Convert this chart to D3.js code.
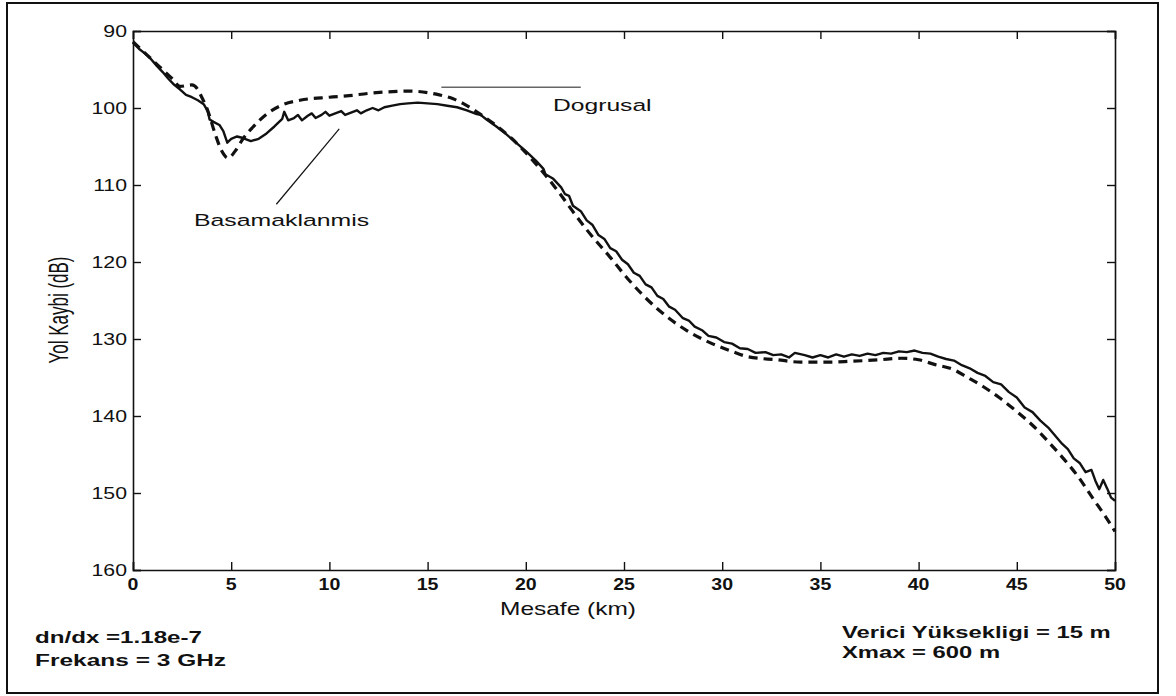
<!DOCTYPE html>
<html><head><meta charset="utf-8">
<script src="https://cdn.jsdelivr.net/npm/d3@7"></script>
<style>html,body{margin:0;padding:0;background:#fff;} svg{display:block;}</style>
</head><body>
<svg id="c" width="1176" height="696"></svg>
<script>
// ---------- data ----------
const xTicks = [0,5,10,15,20,25,30,35,40,45,50];
const yTicks = [90,100,110,120,130,140,150,160];

// Dogrusal (dashed) : distance km, path loss dB
const dogX = [0,0.5,1,1.5,2,2.4,2.7,3.0,3.3,3.5,3.8,4.2,4.5,4.85,5.2,5.6,6.1,6.8,7.6,8.5,10,11,12,13,14,15,15.6,16.3,16.8,17.5,18.5,19.3,20,20.7,21.7,22.5,23.1,24.3,25.2,26,26.8,28.2,29.4,30.5,31.3,32.8,34,35.5,36.5,38,39.1,40,40.8,41.8,42.5,43.3,44.1,44.8,45.8,46.7,47.4,48.1,48.9,49.5,50];
const dogY = [91.4,92.6,93.8,95.0,96.2,97.2,97.1,97.0,97.6,98.6,100.3,103.5,105.5,106.5,105.6,104.0,102.5,100.8,99.6,99.0,98.6,98.4,98.1,97.9,97.8,98.0,98.3,98.8,99.4,100.5,102.3,104.0,105.8,107.8,111.0,113.8,115.8,119.4,122.2,124.4,126.3,128.9,130.5,131.6,132.3,132.7,133.0,133.0,132.9,132.7,132.5,132.7,133.3,134.0,135.0,136.2,137.6,139.0,141.2,143.6,145.6,147.8,150.8,153.0,155.0];

// Basamaklanmis (solid, stepped)
const basX = [0,0.3,0.6,0.9,1.2,1.5,1.8,2.1,2.4,2.7,3.0,3.3,3.6,3.8,3.9,4.1,4.4,4.6,4.8,5.0,5.3,5.6,6.0,6.4,6.8,7.2,7.6,7.7,7.9,8.2,8.4,8.6,8.9,9.1,9.3,9.6,9.8,10.0,10.3,10.6,10.8,11.1,11.4,11.6,11.9,12.2,12.5,12.8,13.2,13.6,14.0,14.5,15.0,15.5,16.0,16.5,17.0,17.5,17.7,18.0,18.5,19.0,19.5,20.0,20.5,20.9,21.0,21.4,21.8,22.0,22.2,22.4,22.8,23.1,23.4,23.7,24.0,24.3,24.6,24.9,25.2,25.5,25.8,26.1,26.4,26.7,27.0,27.3,27.6,28.0,28.3,28.6,29.0,29.3,29.7,30.1,30.5,30.9,31.3,31.7,32.2,32.6,33.0,33.4,33.7,34.2,34.6,35.0,35.4,35.8,36.2,36.6,37.0,37.4,37.8,38.2,38.6,39.0,39.4,39.8,40.2,40.6,41.0,41.4,41.8,42.2,42.6,43.0,43.4,43.8,44.2,44.6,45.0,45.4,45.8,46.2,46.6,47.0,47.3,47.6,47.9,48.2,48.5,48.8,49.0,49.2,49.4,49.6,49.8,50.0];
const basY = [91.5,92.3,92.9,93.6,94.5,95.3,96.2,97.0,97.6,98.3,98.6,99.0,99.5,100.4,101.5,101.8,102.2,103.0,104.5,104.0,103.7,103.9,104.3,104.0,103.3,102.4,101.4,100.5,101.6,101.3,100.9,101.6,101.0,100.7,101.3,100.9,100.5,101.0,100.7,100.4,100.9,100.6,100.3,100.7,100.3,100.0,100.3,99.9,99.7,99.5,99.4,99.3,99.4,99.5,99.7,99.9,100.3,100.8,100.9,101.5,102.4,103.4,104.5,105.6,106.8,107.9,108.6,109.2,110.3,111.2,111.4,112.7,113.4,114.6,115.2,116.5,117.0,118.2,118.6,119.7,120.3,121.4,121.8,122.9,123.3,124.4,124.8,125.8,126.2,127.3,127.6,128.4,128.9,129.6,129.8,130.4,130.6,131.2,131.3,131.8,131.7,132.1,132.0,132.4,131.8,132.1,132.4,132.1,132.4,132.0,132.3,132.0,132.2,131.9,132.1,131.8,131.9,131.6,131.7,131.5,131.8,131.9,132.3,132.6,132.8,133.4,133.8,134.4,134.8,135.6,135.9,136.9,137.6,138.9,139.5,140.6,141.5,142.7,143.6,144.3,145.5,146.1,147.3,147.0,148.4,149.5,148.3,149.4,150.6,151.0];

const seriesNames = ["Dogrusal","Basamaklanmis"];
const axisLabels = {x:"Mesafe (km)", y:"Yol Kaybi (dB)"};
const infoLeft = ["dn/dx =1.18e-7","Frekans = 3 GHz"];
const infoRight = ["Verici Yüksekligi = 15 m","Xmax = 600 m"];

// ---------- drawing ----------
const svg = d3.select("#c");
const FONT = "'Liberation Sans', Arial, Helvetica, sans-serif";
const L=133, R=1115, T=31, B=570;
const x = d3.scaleLinear().domain([0,50]).range([L,R]);
const y = d3.scaleLinear().domain([90,160]).range([T,B]);

// outer frame
svg.append("rect").attr("x",7).attr("y",3).attr("width",1151).attr("height",690)
  .attr("fill","none").attr("stroke","#111").attr("stroke-width",2);

function txt(px,py,s,size,sx,anchor,weight){
  return svg.append("text").attr("transform",`translate(${px},${py}) scale(${sx},1)`)
    .attr("text-anchor",anchor||"start").attr("font-family",FONT)
    .attr("font-size",size).attr("font-weight",weight||"normal").attr("fill","#111").text(s);
}

// axes with inward ticks (MATLAB style box)
const gA = svg.append("g");
const axB = d3.axisBottom(x).tickValues(xTicks).tickSize(-8).tickFormat("");
const axT = d3.axisTop(x).tickValues(xTicks).tickSize(-8).tickFormat("");
const axL = d3.axisLeft(y).tickValues(yTicks).tickSize(-8).tickFormat("");
const axR = d3.axisRight(y).tickValues(yTicks).tickSize(-8).tickFormat("");
gA.append("g").attr("transform",`translate(0,${B})`).call(axB);
gA.append("g").attr("transform",`translate(0,${T})`).call(axT);
gA.append("g").attr("transform",`translate(${L},0)`).call(axL);
gA.append("g").attr("transform",`translate(${R},0)`).call(axR);
gA.selectAll("path.domain").attr("stroke","#111").attr("stroke-width",1.6);
gA.selectAll(".tick line").attr("stroke","#111").attr("stroke-width",1.4);

// tick labels
xTicks.forEach(v=>txt(x(v),590,String(v),17,1.15,"middle","bold"));
yTicks.forEach(v=>txt(127,y(v)+6,String(v),17,1.25,"end","normal"));

// series
const dog = dogX.map((d,i)=>[d,dogY[i]]);
const bas = basX.map((d,i)=>[d,basY[i]]);
const line = d3.line().x(d=>x(d[0])).y(d=>y(d[1]));
svg.append("path").datum(bas).attr("d",line).attr("fill","none")
  .attr("stroke","#111").attr("stroke-width",2.4).attr("stroke-linejoin","round");
svg.append("path").datum(dog).attr("d",d3.line().curve(d3.curveMonotoneX).x(d=>x(d[0])).y(d=>y(d[1])))
  .attr("fill","none").attr("stroke","#111").attr("stroke-width",3.2).attr("stroke-dasharray","9,6");

// annotations
svg.append("line").attr("x1",x(15.7)).attr("x2",x(22.8)).attr("y1",y(97.3)).attr("y2",y(97.3))
  .attr("stroke","#666").attr("stroke-width",1.5);
txt(553,111,seriesNames[0],17,1.45,"start");
svg.append("line").attr("x1",x(10.5)).attr("y1",y(102.7)).attr("x2",x(7.3)).attr("y2",y(112.5))
  .attr("stroke","#111").attr("stroke-width",1.2);
txt(194,226,seriesNames[1],17,1.46,"start");

// axis labels
txt(500,615,axisLabels.x,17.5,1.4,"start");
svg.append("text").attr("transform","translate(68,310) rotate(-90) scale(1,1.6)")
  .attr("text-anchor","middle").attr("font-family",FONT).attr("font-size",17).attr("fill","#111")
  .text(axisLabels.y);

// info texts
txt(35,643,infoLeft[0],17,1.42,"start","bold");
txt(35,666,infoLeft[1],17,1.44,"start","bold");
txt(842,638,infoRight[0],17,1.4,"start","bold");
txt(842,658,infoRight[1],17,1.4,"start","bold");
</script>
</body></html>
